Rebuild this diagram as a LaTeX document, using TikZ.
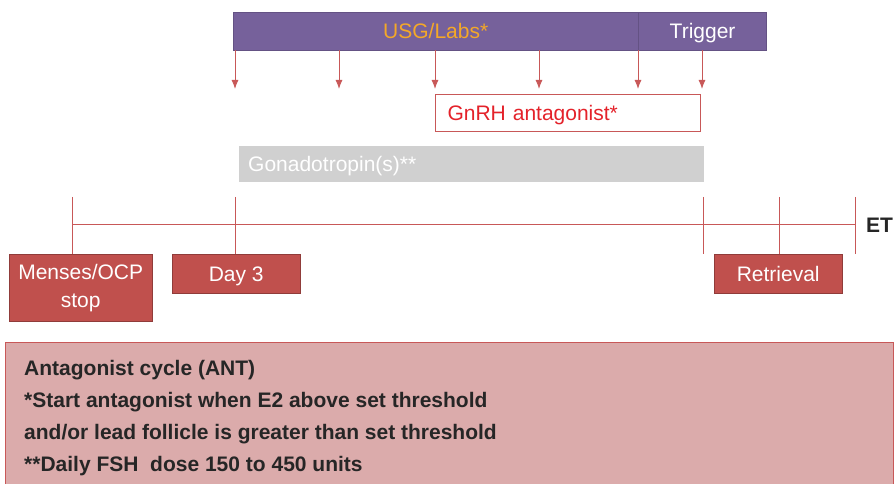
\documentclass[tikz,border=0pt]{standalone}
\usepackage{fontspec}
\setmainfont{Liberation Sans}
\usetikzlibrary{positioning,arrows.meta}
\definecolor{barpurple}{RGB}{118,97,155}
\definecolor{labsorange}{RGB}{244,168,40}
\definecolor{eventred}{RGB}{192,80,77}
\definecolor{linered}{RGB}{200,88,88}
\definecolor{gnrhred}{RGB}{228,34,42}
\definecolor{gonagrey}{RGB}{208,208,208}
\definecolor{notepink}{RGB}{219,171,171}
\begin{document}
\begin{tikzpicture}[x=1pt, y=-1pt,
  font=\fontsize{21}{25}\selectfont,
  every node/.style={text height=15pt, text depth=0pt},
  phase/.style={draw=barpurple!85!black, fill=barpurple, inner sep=0pt,
    minimum height=38pt, anchor=north west},
  event/.style={draw=eventred!75!black, fill=eventred, text=white,
    inner sep=0pt, minimum width=128pt, minimum height=39pt, anchor=north west},
  tick/.style={draw=linered, line width=1pt},
  arr/.style={draw=linered, line width=1pt, -{Latex[length=9pt,width=7pt]}}]
  \useasboundingbox (0,0) rectangle (895,484);
  \node[phase, minimum width=405pt, text=labsorange] (labs) at (233,12) {USG/Labs*};
  \node[phase, minimum width=128pt, text=white, anchor=west] (trigger) at (labs.east) {Trigger};
  \foreach \x in {235,339,435,539,638,702} {
    \coordinate (a\x) at (\x,89);
    \draw[arr] (labs.south -| a\x) -- (a\x);
  }
  \node[draw=linered, line width=1pt, fill=white, text=gnrhred, anchor=north west,
    minimum width=265pt, minimum height=37pt, inner xsep=12pt, inner ysep=0pt,
    text width=241pt, align=left] (gnrh) at (435,94) {GnRH antagonist*};
  \node[fill=gonagrey, text=white, anchor=north west, minimum width=465pt,
    minimum height=36pt, inner xsep=9pt, inner ysep=0pt, text width=447pt,
    align=left] (gona) at (239,146) {Gonadotropin(s)**};
  \coordinate (start) at (72,225);
  \coordinate (stop) at (855,225);
  \draw[tick] (start) -- (stop);
  \foreach \x [count=\i] in {72,235,703,779,855} {
    \coordinate (up\i) at (\x,197);
    \coordinate (dn\i) at (\x,254);
    \draw[tick] (up\i) -- (dn\i);
  }
  \node[font=\fontsize{21}{25}\selectfont\bfseries, text=black!85, anchor=west,
    inner xsep=0pt] (et) at ([xshift=11pt]stop) {ET};
  \node[event, minimum width=143pt, minimum height=67pt, align=center,
    text height=, text depth=, font=\fontsize{21}{28}\selectfont] (menses) at (9,254) {Menses/OCP\\stop};
  \node[event] (day3) at (172,254) {Day 3};
  \node[event] (retrieval) at (714,254) {Retrieval};
  \node[draw=linered, line width=1pt, fill=notepink, anchor=north west, inner sep=0pt,
    minimum width=888pt, minimum height=170pt] (note) at (5,342) {};
  \foreach \t [count=\i] in {Antagonist cycle (ANT),
      *Start antagonist when E2 above set threshold,
      and/or lead follicle is greater than set threshold,
      **Daily FSH~ dose 150 to 450 units} {
    \node[anchor=base west, inner sep=0pt, text=black!85,
      font=\fontsize{21}{25}\selectfont\bfseries] (line\i) at (24,343.5+32*\i) {\t};
  }
\end{tikzpicture}
\end{document}
